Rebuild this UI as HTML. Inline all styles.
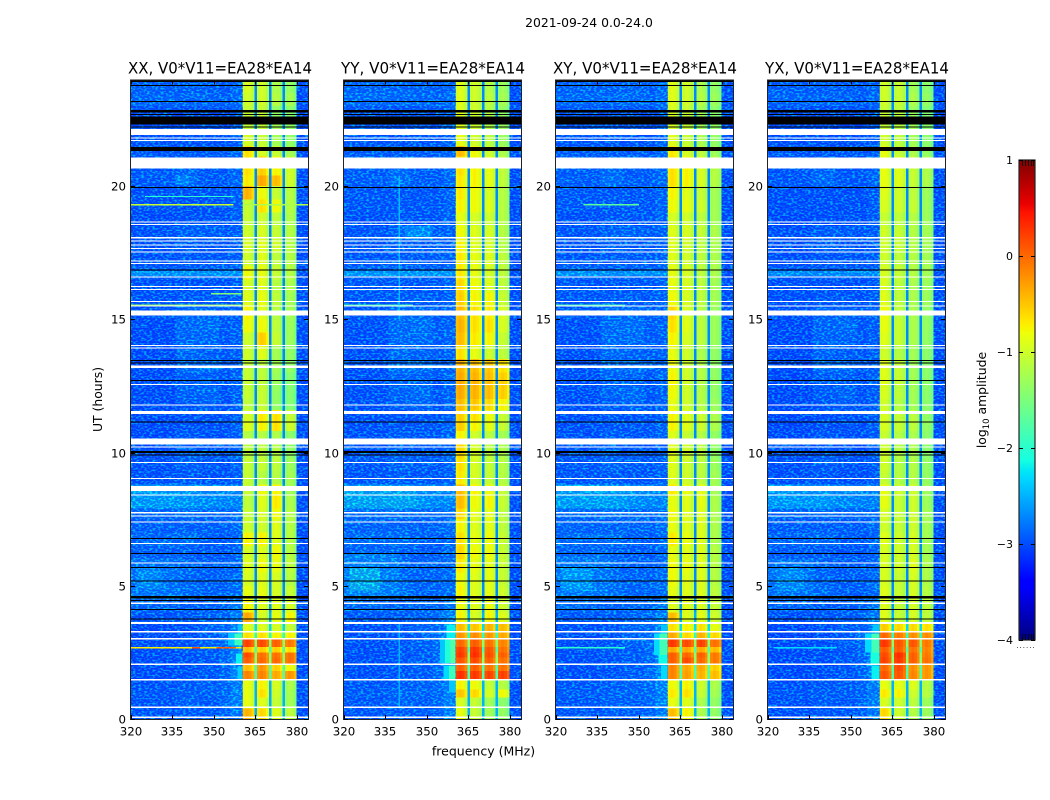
<!DOCTYPE html>
<html><head><meta charset="utf-8"><title>2021-09-24 spectrogram</title>
<style>
html,body{margin:0;padding:0;background:#fff;width:1050px;height:800px;overflow:hidden}
svg{display:block}
text{font-family:"DejaVu Sans","Liberation Sans",sans-serif;fill:#000}
</style></head>
<body>
<svg id="chart" xmlns="http://www.w3.org/2000/svg" width="1050" height="800" viewBox="0 0 1050 800">
<defs>
<filter id="grain" x="0" y="0" width="1" height="1" color-interpolation-filters="sRGB">
<feTurbulence type="fractalNoise" baseFrequency="0.36 0.6" numOctaves="1" seed="7"/>
<feColorMatrix type="matrix" values="0 0 0 0 0  4.2 0 0 0 -1.92  0 0 0 0 1  0 0 0 0 0.42"/>
</filter>
<linearGradient id="jetGradient" x1="0" y1="1" x2="0" y2="0"></linearGradient>
</defs>
<text x="589" y="27" font-size="12.4" text-anchor="middle">2021-09-24 0.0-24.0</text>
<text x="483.5" y="755.5" font-size="12.5" text-anchor="middle">frequency (MHz)</text>
<text x="102" y="399.5" font-size="12.4" text-anchor="middle" transform="rotate(-90 102 399.5)">UT (hours)</text>
<text x="986" y="400" font-size="12.4" text-anchor="middle" transform="rotate(-90 986 400)">log<tspan font-size="8.5" dy="3">10</tspan><tspan dy="-3"> amplitude</tspan></text>
<g id="panels"></g>
<g id="colorbar"></g>
</svg>
<script>
// ---------- data ----------
const panelTitles = ["XX, V0*V11=EA28*EA14","YY, V0*V11=EA28*EA14","XY, V0*V11=EA28*EA14","YX, V0*V11=EA28*EA14"];
const xTicks = [320,335,350,365,380];
const yTicks = [0,5,10,15,20];
const colorTicks = [1,0,-1,-2,-3,-4];
const hourEdges = [0,.4,.8,1.1,1.5,1.8,2.05,2.3,2.5,2.7,3,3.3,3.6,4,4.5,5,5.5,6,6.5,7,7.5,7.9,8.4,8.8,9.3,9.8,10.3,10.8,11.2,11.6,12,12.5,13,13.5,14,14.5,15,15.5,16,16.5,17,17.5,18,18.5,19,19.5,20,20.4,21.1,21.5,22,22.5,23,23.5,23.96];
const backgroundEdges = [320,336,344,352,356,360.4];
const bandEdges = [[360.4,364.7],[365.6,369.9],[370.8,374.8],[375.7,379.9]];
const bandRipple = [-.1,-.02,-.08,-.25];
const gapEdges = [[364.7,365.6],[369.9,370.8],[374.8,375.7]];
const rightEdge = [379.9,384];
const rightLevel = -2.88;
const backgroundOffsets = [0,0.03,0.03,-0.02];
const backgroundLevels = [
[-2.85,-2.8,-2.8,-2.75,-2.55],[-2.85,-2.75,-2.8,-2.7,-2.5],[-2.8,-2.75,-2.75,-2.7,-2.5],[-2.85,-2.8,-2.75,-2.7,-2.5],
[-2.9,-2.85,-2.8,-2.7,-2.45],[-2.9,-2.85,-2.8,-2.7,-2.45],[-2.9,-2.85,-2.8,-2.7,-2.45],[-2.9,-2.85,-2.8,-2.7,-2.45],
[-2.9,-2.85,-2.8,-2.7,-2.45],[-2.9,-2.85,-2.75,-2.65,-2.4],[-2.9,-2.85,-2.75,-2.65,-2.4],[-2.9,-2.85,-2.75,-2.7,-2.5],
[-2.85,-2.8,-2.75,-2.7,-2.5],[-2.7,-2.75,-2.75,-2.7,-2.55],[-2.5,-2.65,-2.75,-2.75,-2.65],[-2.5,-2.7,-2.75,-2.75,-2.65],
[-2.55,-2.7,-2.75,-2.75,-2.7],[-2.75,-2.75,-2.8,-2.8,-2.7],[-2.7,-2.65,-2.75,-2.8,-2.7],[-2.75,-2.75,-2.75,-2.75,-2.65],
[-2.7,-2.65,-2.7,-2.7,-2.65],[-2.28,-2.33,-2.4,-2.45,-2.45],[-2.28,-2.33,-2.4,-2.45,-2.45],[-2.85,-2.8,-2.85,-2.85,-2.75],
[-2.85,-2.75,-2.8,-2.85,-2.75],[-2.85,-2.75,-2.8,-2.85,-2.7],[-2.9,-2.8,-2.85,-2.85,-2.75],[-2.9,-2.85,-2.85,-2.85,-2.75],
[-2.9,-2.85,-2.85,-2.85,-2.75],[-2.9,-2.8,-2.75,-2.85,-2.75],[-2.9,-2.75,-2.7,-2.85,-2.75],[-2.9,-2.75,-2.75,-2.85,-2.7],
[-2.9,-2.65,-2.65,-2.75,-2.75],[-2.9,-2.7,-2.75,-2.8,-2.75],[-2.9,-2.7,-2.7,-2.8,-2.75],[-2.9,-2.7,-2.65,-2.8,-2.75],
[-2.85,-2.7,-2.7,-2.8,-2.75],[-2.85,-2.8,-2.8,-2.85,-2.75],[-2.85,-2.85,-2.85,-2.85,-2.75],[-2.75,-2.75,-2.75,-2.75,-2.7],
[-2.85,-2.8,-2.8,-2.8,-2.75],[-2.85,-2.75,-2.8,-2.8,-2.75],[-2.85,-2.75,-2.75,-2.8,-2.75],[-2.9,-2.85,-2.85,-2.85,-2.75],
[-2.85,-2.85,-2.85,-2.85,-2.75],[-2.85,-2.85,-2.85,-2.85,-2.75],[-2.8,-2.65,-2.8,-2.8,-2.7],[-2.8,-2.7,-2.8,-2.8,-2.7],
[-2.8,-2.8,-2.8,-2.8,-2.7],[-2.85,-2.85,-2.85,-2.85,-2.75],[-2.85,-2.85,-2.85,-2.85,-2.75],[-2.85,-2.85,-2.85,-2.85,-2.75],
[-2.7,-2.7,-2.7,-2.75,-2.65],[-2.75,-2.75,-2.75,-2.8,-2.7]];
const gapLevels = [-2.5,-2.5,-2.5,-2.5,-1.8,-1.8,-1.4,-1.4,-1.8,-1.4,-2,-2.3,-2.5,-2.6,-2.7,-2.7,-2.7,-2.7,-2.7,-2.7,-2.7,-2.7,-2.6,-2.7,-2.7,-2.7,-2.7,-2.7,-2.7,-2.7,-2.7,-2.7,-2.7,-2.7,-2.7,-2.7,-2.7,-2.7,-2.7,-2.7,-2.7,-2.7,-2.7,-2.7,-2.7,-2.7,-2.7,-2.7,-2.7,-2.7,-2.7,-2.7,-2.7,-2.7];
const bandXX = [
[-.35,-.55,-.85,-1.05],[-.8,-.85,-1,-1.2],[-.8,-.6,-.95,-1.2],[-.8,-.7,-.9,-1.15],[-.1,-.1,-.3,-.2],[-.4,-.2,-.5,-.75],
[.1,.05,.05,0],[.2,0,0,0],[-.4,-.5,-.5,-.6],[.25,.2,.1,-.05],[-.6,-.6,-.7,-.7],[-.85,-.85,-.9,-1],[-.3,-.9,-.8,-.7],[-.7,-.85,-.85,-.9],
[-.8,-.8,-.9,-1],[-.9,-.85,-.9,-1.1],[-.85,-.75,-.8,-1.05],[-.9,-.85,-.75,-1.1],[-.7,-.7,-.85,-1.1],[-.95,-.95,-.85,-1.1],[-1,-.9,-.75,-1.1],
[-1.05,-.85,-.65,-1.15],[-1,-.75,-.7,-1.2],[-1,-1.1,-1.1,-1.2],[-1,-1,-1.05,-1.25],[-1.05,-1.05,-1.1,-1.3],[-1.1,-1.1,-1.15,-1.35],
[-.85,-.7,-.6,-.95],[-.9,-.65,-.6,-1],[-1.05,-1,-1.3,-1.4],[-1,-1,-1.3,-1.4],[-1,-1.05,-1.25,-1.4],[-1,-1.05,-1.2,-1.3],[-.95,-.85,-1.2,-1.3],
[-.95,-.5,-1,-1.25],[-.75,-.75,-1.05,-1.25],[-.7,-.85,-1.1,-1.2],[-.85,-.8,-1.05,-1.2],[-.9,-.85,-1.1,-1.15],[-.75,-.8,-1,-1.1],
[-.95,-.85,-1.05,-1.1],[-.9,-.85,-.95,-1.1],[-.95,-.9,-1,-1.1],[-1,-.95,-1.05,-1.15],[-1,-.6,-.75,-1.1],[-.35,-.75,-1,-1.1],[-.65,-.3,-.4,-.95],
[-.6,-.5,-.7,-.95],[-.6,-.9,-1,-1.2],[-.9,-1,-1.2,-1.3],[-1,-1,-1.2,-1.3],[-1,-1,-1.3,-1.35],[-.95,-.95,-1.1,-1.2],[-.9,-.95,-1.15,-1.3]];
const bandYY = [
[-.8,-1,-1.2,-1.3],[-.9,-1,-1.2,-1.35],[-.45,-.55,-.9,-.75],[-.7,-.75,-1,-1.1],[.35,.3,.25,.25],[.1,.1,0,0],
[.15,.2,.1,0],[.3,.35,.2,.1],[.25,.3,.15,0],[.05,.1,0,-.1],[-.2,-.15,-.2,-.3],[-.4,-.45,-.35,-.4],[-.7,-.9,-.7,-.85],[-.75,-.85,-.75,-.95],
[-.7,-.85,-.8,-.95],[-.75,-.85,-.8,-1],[-.65,-.8,-.8,-1],[-.55,-.75,-.75,-1],[-.6,-.8,-.75,-1],[-.7,-.85,-.8,-1.05],[-.55,-.8,-.8,-1.05],
[-.4,-.75,-.7,-1],[-.4,-.7,-.75,-1],[-.65,-.9,-1,-1.1],[-.6,-.9,-1,-1.1],[-.55,-.9,-1.05,-1.15],[-.7,-.95,-1.05,-1.2],
[-.5,-.7,-.8,-1],[-.5,-.6,-.75,-1],[-.4,-.45,-.55,-.7],[-.3,-.35,-.4,-.5],[-.3,-.35,-.4,-.5],[-.35,-.4,-.45,-.6],[-.6,-.8,-.95,-1.05],
[-.4,-.65,-.7,-1],[-.35,-.6,-.6,-.9],[-.4,-.6,-.65,-.9],[-.5,-.7,-.7,-1],[-.55,-.75,-.85,-1.05],[-.65,-.8,-.9,-1.05],
[-.65,-.8,-.85,-1.05],[-.7,-.85,-.9,-1.1],[-.75,-.85,-.9,-1.1],[-.8,-.9,-.95,-1.1],[-.7,-.75,-.85,-1.1],[-.65,-.75,-.9,-1.1],[-.65,-.7,-.8,-1.05],
[-.6,-.7,-.8,-1.05],[-.4,-.75,-.95,-1.15],[-.8,-.95,-1.05,-1.25],[-.85,-.95,-1.1,-1.25],[-.85,-.95,-1.1,-1.3],[-.85,-.95,-1.05,-1.2],[-.85,-.95,-1.1,-1.25]];
const bandXY = [
[-.4,-.7,-1.15,-1.3],[-.8,-.85,-1.15,-1.3],[-.65,-.6,-1,-1.2],[-.75,-.7,-.95,-1.15],[-.1,-.25,-.35,-.4],[-.1,-.3,-.3,-.5],
[.1,.2,.05,-.05],[.1,.05,.1,-.05],[-.3,-.3,-.3,-.4],[.3,.2,.25,0],[-.3,-.55,-.35,-.55],[-.6,-.7,-.6,-.8],[-.4,-.85,-.8,-.95],[-.85,-.85,-.85,-1],
[-.8,-.85,-.85,-1.05],[-.75,-.85,-.85,-1.1],[-.75,-.8,-.85,-1.1],[-.8,-.85,-.85,-1.1],[-.65,-.8,-.85,-1.15],[-.8,-.85,-.85,-1.15],[-.75,-.85,-.85,-1.15],
[-.8,-.85,-.8,-1.15],[-.65,-.8,-.8,-1.2],[-.85,-.95,-1.05,-1.2],[-.85,-.95,-1.05,-1.25],[-.85,-.95,-1.05,-1.3],[-.85,-1,-1.1,-1.3],
[-.7,-.85,-.95,-1.15],[-.7,-.85,-.95,-1.15],[-.8,-.95,-1.1,-1.25],[-.75,-.95,-1.1,-1.3],[-.7,-.95,-1.1,-1.3],[-.75,-.95,-1.1,-1.3],[-.8,-.95,-1.15,-1.3],
[-.7,-.9,-1.05,-1.25],[-.6,-.85,-1.05,-1.25],[-.55,-.9,-1.1,-1.25],[-.75,-.9,-1.05,-1.2],[-.8,-.9,-1.05,-1.2],[-.8,-.9,-1.05,-1.15],
[-.85,-.95,-1.05,-1.15],[-.85,-.95,-1.05,-1.15],[-.85,-.9,-1,-1.15],[-.9,-.95,-1.05,-1.2],[-.75,-.8,-.95,-1.2],[-.7,-.85,-1,-1.2],[-.6,-.7,-.9,-1.1],
[-.6,-.7,-.9,-1.1],[-.65,-.9,-1.05,-1.25],[-.85,-1,-1.15,-1.3],[-.9,-1,-1.2,-1.3],[-.9,-1,-1.2,-1.35],[-.85,-.95,-1.1,-1.25],[-.85,-.95,-1.15,-1.3]];
const bandYX = [
[-.55,-.95,-1.1,-1.25],[-.9,-.95,-1.05,-1.25],[-.65,-.7,-.95,-1.1],[-.8,-.8,-.85,-1.1],[.15,.15,-.1,-.2],[.05,.2,-.15,-.2],
[.25,.3,.1,0],[.2,.35,.1,-.05],[.1,.1,0,-.1],[.3,.15,.15,-.05],[.05,-.05,-.15,-.15],[-.5,-.55,-.55,-.6],[-.85,-1,-.9,-1.05],[-.85,-1,-.9,-1.05],
[-.85,-1,-.9,-1.1],[-.9,-1,-.9,-1.15],[-.9,-.95,-.85,-1.15],[-.9,-.95,-.9,-1.2],[-.85,-.95,-.9,-1.2],[-.95,-1,-.95,-1.2],[-.9,-1,-.95,-1.2],
[-.8,-1,-.95,-1.25],[-.8,-.95,-.95,-1.25],[-1,-1.1,-1.1,-1.3],[-.95,-1.1,-1.1,-1.3],[-.95,-1.1,-1.15,-1.35],[-1,-1.1,-1.15,-1.35],
[-.9,-1,-1.05,-1.3],[-.9,-1,-1.05,-1.3],[-.95,-1.1,-1.2,-1.35],[-.9,-1.05,-1.2,-1.35],[-.85,-1,-1.2,-1.35],[-.85,-1,-1.2,-1.35],[-.95,-1.1,-1.2,-1.35],
[-.85,-1,-1.15,-1.3],[-.8,-1,-1.15,-1.3],[-.75,-1.05,-1.15,-1.3],[-.85,-1.05,-1.15,-1.25],[-.9,-1.05,-1.15,-1.25],[-.9,-1,-1.1,-1.2],
[-.95,-1.05,-1.1,-1.2],[-.95,-1,-1.1,-1.2],[-.95,-1,-1.1,-1.2],[-1,-1.05,-1.1,-1.25],[-.9,-.95,-1,-1.25],[-.85,-.95,-1.05,-1.25],[-.8,-.85,-1,-1.15],
[-.8,-.85,-1,-1.15],[-.8,-1,-1.15,-1.3],[-.95,-1.05,-1.2,-1.35],[-1,-1.05,-1.2,-1.35],[-1,-1.05,-1.25,-1.4],[-.95,-1,-1.15,-1.3],[-.95,-1,-1.2,-1.35]];
const panelBands = [bandXX,bandYY,bandXY,bandYX];
// broad diffuse emission beneath the noise: panel, hour from, hour to, MHz from, MHz to, log10 amplitude
const diffusePatches = [
[1,4.6,6.2,320,340,-2.5],[1,4.8,5.7,322,333,-2.15],[1,7.9,8.6,320,346,-2.2],
[0,4.7,6,320,338,-2.6],[0,4.9,5.6,322,331,-2.42],
[2,4.6,6.1,320,339,-2.55],[2,4.8,5.7,322,333,-2.3],[2,7.9,8.6,320,346,-2.25],
[3,4.6,6,320,337,-2.6],[3,4.8,5.7,323,333,-2.42],[3,7.9,8.6,320,342,-2.3],
[1,18,18.5,342,352,-2.4],[0,20.05,20.4,336,341,-2.45],
[0,16.62,16.82,320,360.4,-2.35],[1,16.62,16.82,320,360.4,-2.3],[2,16.62,16.82,320,360.4,-2.35],[3,16.62,16.82,320,360.4,-2.4]];
// smooth shoulder next to the band during the bright interval, above the noise
const shoulderPatches = [
[0,2.75,3.2,355,357.5,-2.4],[0,2.75,3.2,357.5,360.4,-1.9],[0,2.05,2.45,358,360.4,-2.2],[0,1.5,1.95,358.5,360.4,-2.35],[0,3.2,3.55,358.5,360.4,-2.4],
[1,2.1,3,354.7,356.5,-2.4],[1,2.1,3,356.5,358.5,-2.05],[1,2.1,3,358.5,360.4,-1.75],[1,3,3.55,357,360.4,-2.2],[1,1.5,2,356,358,-2.3],[1,1.5,2,358,360.4,-1.9],[1,1,1.45,358,360.4,-2.4],
[2,2.4,3.2,355.5,357.5,-2.3],[2,2.4,3.2,357.5,360.4,-1.85],[2,2.08,2.4,357,360.4,-2.15],[2,1.5,2,358,360.4,-2.3],[2,3.2,3.55,358,360.4,-2.4],
[3,2.5,3.2,355,357.5,-2.3],[3,2.5,3.2,357.5,360.4,-1.85],[3,2.08,2.5,357,360.4,-2.1],[3,1.5,2,357.5,360.4,-2.2],[3,3.3,3.55,358,360.4,-2.4]];
// narrow interference: panel, hour from, hour to, MHz from, MHz to, log10 amplitude
const interference = [
[0,2.64,2.7,320,360,-.7],[0,2.64,2.7,342,345,.1],[0,2.64,2.7,351,358,.05],[0,19.27,19.33,320,357,-1.05],[0,19.27,19.33,361,384,-1.2],
[0,19.58,19.62,325,357,-2],[0,15.93,15.98,349,360,-1.5],[0,15.5,15.56,320,360,-1.3],[2,19.27,19.32,330,350,-1.7],
[2,15.5,15.56,320,345,-1.8],[1,15.5,15.56,320,345,-1.8],[2,2.64,2.7,320,345,-2],[3,2.64,2.7,322,345,-2.3],
[1,15,20.4,339.7,340.3,-2.45],[1,.4,3.6,339.7,340.3,-2.5]];
const flaggedHours = [[.04,.09],[.41,.47],[1.44,1.5],[2.02,2.08],[2.98,3.04],[3.24,3.3],[3.56,3.64],[4.32,4.37],[5.83,5.87],[6.56,6.6],[7.37,7.41],[7.6,7.64],[7.72,7.76],[8.39,8.42],[8.55,8.75],[9.01,9.05],[9.61,9.65],[10.2,10.23],[10.3,10.52],[11.45,11.55],[11.76,11.8],[12.53,12.57],[13.17,13.27],[13.9,13.94],[14,14.04],[15.15,15.33],[15.48,15.52],[15.65,15.68],[16.11,16.14],[16.21,16.24],[16.57,16.6],[17.08,17.11],[17.18,17.21],[17.52,17.55],[17.65,17.68],[17.77,17.8],[17.93,17.96],[18.04,18.09],[18.54,18.57],[18.64,18.67],[20.66,21.07],[21.69,21.72],[21.79,21.82],[21.91,22.14]];
const zeroHours = [[3.74,3.77],[4.1,4.13],[4.43,4.47],[4.52,4.62],[5.16,5.19],[5.68,5.71],[6.2,6.23],[6.77,6.8],[9.9,9.93],[9.98,10.05],[11.14,11.17],[12.68,12.72],[13.34,13.37],[13.44,13.47],[16.83,16.87],[19.93,19.96],[21.31,21.46],[22.2,22.23],[22.3,22.6],[22.67,22.7],[22.75,22.85],[23.17,23.2],[23.77,23.8],[23.9,23.96]];

// ---------- layout and scales ----------
const panelLefts = [131,344,556,768];
const panelWidth = 177, plotTop = 80.5, plotBottom = 719;
const NS = 'http://www.w3.org/2000/svg';
const xMin = 320, xMax = 384, yMax = 23.96;
function xScale(i,f){ return panelLefts[i] + (f-xMin)/(xMax-xMin)*panelWidth; }
function yScale(h){ return plotBottom - h/yMax*(plotBottom-plotTop); }
function jetChannel(pts,t){
  for(let k=1;k<pts.length;k++){ if(t<=pts[k][0]){ const a=pts[k-1],b=pts[k]; return a[1]+(b[1]-a[1])*(t-a[0])/(b[0]-a[0]); } }
  return pts[pts.length-1][1];
}
const jetR=[[0,0],[.35,0],[.66,1],[.89,1],[1,.5]], jetG=[[0,0],[.125,0],[.375,1],[.64,1],[.91,0],[1,0]], jetB=[[0,.5],[.11,1],[.34,1],[.65,0],[1,0]];
function color(v){
  const t=Math.max(0,Math.min(1,(v+4)/5));
  return 'rgb('+[jetR,jetG,jetB].map(p=>Math.round(255*jetChannel(p,t))).join(',')+')';
}
function rectEl(parent,x,y,w,h,fill){
  const r=document.createElementNS(NS,'rect');
  r.setAttribute('x',x); r.setAttribute('y',y); r.setAttribute('width',w); r.setAttribute('height',h);
  r.setAttribute('fill',fill); r.setAttribute('shape-rendering','crispEdges');
  parent.appendChild(r); return r;
}
function lineEl(parent,x1,y1,x2,y2,stroke,sw){
  const l=document.createElementNS(NS,'line');
  l.setAttribute('x1',x1); l.setAttribute('y1',y1); l.setAttribute('x2',x2); l.setAttribute('y2',y2);
  l.setAttribute('stroke',stroke||'#000'); l.setAttribute('stroke-width',sw||1);
  parent.appendChild(l); return l;
}
function textEl(parent,x,y,str,anchor,size){
  const t=document.createElementNS(NS,'text');
  t.setAttribute('x',x); t.setAttribute('y',y); t.setAttribute('text-anchor',anchor); t.setAttribute('font-size',size);
  t.textContent=str; parent.appendChild(t); return t;
}
function cell(g,i,f0,f1,h0,h1,v){
  const x0=xScale(i,f0), x1=xScale(i,f1), y0=yScale(h1), y1=yScale(h0);
  return rectEl(g,x0,y0,x1-x0,y1-y0,color(v));
}

// ---------- panels ----------
const panelsRoot=document.getElementById('panels');
panelLefts.forEach((left,i)=>{
  const g=document.createElementNS(NS,'g');
  
  
  panelsRoot.appendChild(g);
  const rows=hourEdges.length-1;
  for(let r=0;r<rows;r++){
    const h0=hourEdges[r],h1=hourEdges[r+1];
    backgroundLevels[r].forEach((v,c)=>{
      const el=cell(g,i,backgroundEdges[c],backgroundEdges[c+1],h0,h1,v+backgroundOffsets[i]);
      
      
    });
    panelBands[i][r].forEach((v,c)=>{
      const span=(bandEdges[c][1]-bandEdges[c][0])/bandRipple.length;
      bandRipple.forEach((ripple,k)=>{
        const el=cell(g,i,bandEdges[c][0]+k*span,bandEdges[c][0]+(k+1)*span,h0,h1,v+ripple);
        
        
      });
    });
    gapEdges.forEach(ge=>{
      const el=cell(g,i,ge[0],ge[1],h0,h1,gapLevels[r]);
      
      
    });
    const er=cell(g,i,rightEdge[0],rightEdge[1],h0,h1,rightLevel);
    
    
  }
  diffusePatches.filter(p=>p[0]===i).forEach(p=>{
    const el=cell(g,i,p[3],p[4],p[1],p[2],p[5]);
    
    
  });
  // grain over the off-band noise
  [[xMin,bandEdges[0][0]],[rightEdge[0],rightEdge[1]]].forEach(span=>{
    const n=rectEl(g,xScale(i,span[0]),plotTop,xScale(i,span[1])-xScale(i,span[0]),plotBottom-plotTop,'#000');
    n.setAttribute('filter','url(#grain)');
    
    
  });
  shoulderPatches.filter(p=>p[0]===i).forEach(p=>{
    const el=cell(g,i,p[3],p[4],p[1],p[2],p[5]);
    
    
  });
  interference.filter(p=>p[0]===i).forEach(p=>{
    const el=cell(g,i,p[3],p[4],p[1],p[2],p[5]);
    
    
  });
  flaggedHours.forEach(f=>{
    const el=rectEl(g,left,yScale(f[1]),panelWidth,Math.max(1,yScale(f[0])-yScale(f[1])),'#fff');
    
    
  });
  zeroHours.forEach(f=>{
    const el=rectEl(g,left,yScale(f[1]),panelWidth,Math.max(1,yScale(f[0])-yScale(f[1])),'#000');
    
    
  });
  // frame
  const frame=document.createElementNS(NS,'rect');
  frame.setAttribute('x',left-.5); frame.setAttribute('y',plotTop-.5);
  frame.setAttribute('width',panelWidth+1); frame.setAttribute('height',plotBottom-plotTop+1);
  frame.setAttribute('fill','none'); frame.setAttribute('stroke','#222'); frame.setAttribute('stroke-width','1');
  
  
  g.appendChild(frame);
  // ticks
  xTicks.forEach(t=>{
    const x=Math.round(xScale(i,t))+.5;
    const a=lineEl(g,x,plotBottom,x,plotBottom-4);
    
    
    const b=lineEl(g,x,plotTop,x,plotTop+4);
    
    
    const l=textEl(g,x-.5,plotBottom+16.5,String(t),'middle',11.8);
    
    
  });
  yTicks.forEach(t=>{
    const y=Math.round(yScale(t))+.5;
    const a=lineEl(g,left,y,left+4,y);
    
    
    const b=lineEl(g,left+panelWidth,y,left+panelWidth-4,y);
    
    
    const l=textEl(g,left-5,y+3.8,String(t),'end',11.8);
    
    
  });
  const title=textEl(g,left+panelWidth/2+.5,73.5,panelTitles[i],'middle',15.6);
  title.setAttribute('textLength','184');
  title.setAttribute('lengthAdjust','spacingAndGlyphs');
  
  
});

// ---------- colorbar ----------
const cbX=1019, cbW=16, cbTop=160, cbBottom=640;
function cbY(v){ return cbBottom-(v+4)/5*(cbBottom-cbTop); }
const grad=document.getElementById('jetGradient');
[0,.11,.125,.34,.35,.375,.64,.65,.66,.89,.91,1].forEach(t=>{
  const s=document.createElementNS(NS,'stop');
  s.setAttribute('offset',t);
  s.setAttribute('stop-color',color(t*5-4));
  grad.appendChild(s);
});
const cb=document.getElementById('colorbar');
const bar=document.createElementNS(NS,'rect');
bar.setAttribute('x',cbX); bar.setAttribute('y',cbTop); bar.setAttribute('width',cbW); bar.setAttribute('height',cbBottom-cbTop);
bar.setAttribute('fill','url(#jetGradient)'); bar.setAttribute('stroke','#222'); bar.setAttribute('stroke-width','1.2');


cb.appendChild(bar);
colorTicks.forEach(t=>{
  const y=Math.round(cbY(t))+.5;
  const a=lineEl(cb,cbX,y,cbX+4,y);
  
  
  const b=lineEl(cb,cbX+cbW,y,cbX+cbW-4,y);
  
  
  const l=textEl(cb,cbX-6,y+3.5,String(t).replace('-','\u2212'),'end',11);
  
  
});
[3,6,9,12,14].forEach(dx=>{
  const a=lineEl(cb,cbX+dx+.5,cbTop,cbX+dx+.5,cbTop+6,'#000',.8);
  
  
  const b=lineEl(cb,cbX+dx+.5,cbBottom,cbX+dx+.5,cbBottom-6,'#000',.8);
  
  
});
const dots=textEl(cb,cbX+7,648,'......','middle',7);
dots.setAttribute('letter-spacing','1');
dots.setAttribute('fill','#666');


</script>
</body></html>
